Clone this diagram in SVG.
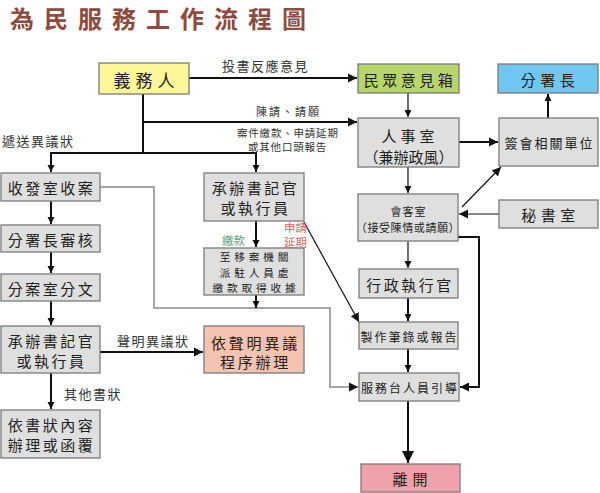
<svg xmlns="http://www.w3.org/2000/svg" width="600" height="493" viewBox="0 0 600 493">
<defs>
<marker id="ah" markerUnits="userSpaceOnUse" markerWidth="10" markerHeight="10" refX="9" refY="5" orient="auto"><path d="M0,0.5 L9,5 L0,9.5 z" fill="#111"/></marker>
<marker id="as" markerUnits="userSpaceOnUse" markerWidth="8" markerHeight="8" refX="7" refY="4" orient="auto"><path d="M0,0.5 L7,4 L0,7.5 z" fill="#111"/></marker>
<marker id="ab" markerUnits="userSpaceOnUse" markerWidth="14" markerHeight="14" refX="12" refY="7" orient="auto"><path d="M0,1 L12,7 L0,13 z" fill="#111"/></marker>
</defs>
<style>
.box{stroke:#7a7a7a;stroke-width:1.3}
.g{fill:#dfdfdf}
.t{font-family:"Noto Sans CJK TC","Noto Sans CJK SC",sans-serif;fill:#222;text-anchor:middle;dominant-baseline:central}
.l{font-family:"Noto Sans CJK TC","Noto Sans CJK SC",sans-serif;fill:#333;dominant-baseline:central}
.thick{fill:none;stroke:#111;stroke-width:2}
.thin{fill:none;stroke:#111;stroke-width:1.2}
.gray{fill:none;stroke:#8a8a8a;stroke-width:1.5}
</style>
<rect width="600" height="493" fill="#fff"/>
<text x="10" y="17.5" dominant-baseline="central" font-family="'Noto Sans CJK TC','Noto Sans CJK SC',sans-serif" font-size="24" font-weight="700" letter-spacing="10" fill="#8c4b3e">為民服務工作流程圖</text>

<g id="connectors">
<path class="thick" d="M189,78 H357" marker-end="url(#ah)"/>
<path class="thick" d="M143,94 V153"/>
<path class="thick" d="M143,122 H357" marker-end="url(#ah)"/>
<path class="thick" d="M143,153 H51 V172" marker-end="url(#as)"/>
<path class="thick" d="M143,153 H256 V172" marker-end="url(#as)"/>
<path class="thin" d="M408,93 V117" marker-end="url(#as)"/>
<path class="thick" d="M459,142 H498" marker-end="url(#ah)"/>
<path class="thick" d="M548,118 V94" marker-end="url(#as)"/>
<path class="thin" d="M408,167 V193" marker-end="url(#as)"/>
<path class="thin" d="M499,214 H459" marker-end="url(#ah)"/>
<path class="thin" d="M462,207 L501,167" marker-end="url(#ah)"/>
<path class="thick" d="M458,237 H479 V387 H460" marker-end="url(#ah)"/>
<path class="thin" d="M408,241 V268" marker-end="url(#as)"/>
<path class="thick" d="M408,298 V321" marker-end="url(#as)"/>
<path class="thick" d="M408,349 V372" marker-end="url(#as)"/>
<path class="thick" d="M408,401 V463" marker-end="url(#ab)"/>
<path class="gray" d="M100,187 H154 V308 H330 V387 H358" marker-end="url(#ah)"/>
<path class="thick" d="M256,295 V308" marker-end="url(#as)"/>
<path class="thick" d="M256,221 V247" marker-end="url(#as)"/>
<path class="thin" d="M304,222 L359,322" marker-end="url(#ah)"/>
<path class="thick" d="M51,201 V224" marker-end="url(#as)"/>
<path class="thick" d="M51,252 V273" marker-end="url(#as)"/>
<path class="thick" d="M51,301 V325" marker-end="url(#as)"/>
<path class="thick" d="M51,373 V409" marker-end="url(#as)"/>
<path class="thick" d="M100,352 H203" marker-end="url(#ah)"/>
<text class="l" x="222" y="65" font-size="13" letter-spacing="1.5">投書反應意見</text>
<text class="l" x="256" y="111" font-size="11" letter-spacing="2">陳請、請願</text>
<text class="l" x="237" y="132" font-size="10.5" letter-spacing="0.8">案件繳款、申請延期</text>
<text class="l" x="248" y="146" font-size="10.5" letter-spacing="0.8">或其他口頭報告</text>
<text class="l" x="2" y="140" font-size="13" letter-spacing="1.5">遞送異議狀</text>
<text class="l" x="222" y="240" font-size="11.5" style="fill:#5f9e80">繳款</text>
<text class="l" x="284" y="227" font-size="11.5" style="fill:#e06464">申請</text>
<text class="l" x="284" y="242" font-size="11.5" style="fill:#e06464">延期</text>
<text class="l" x="117" y="340" font-size="13" letter-spacing="1.5">聲明異議狀</text>
<text class="l" x="64" y="393" font-size="13" letter-spacing="1.5">其他書狀</text>
</g>

<g id="n1"><rect class="box" x="99" y="63" width="90" height="31" fill="#fef79a"/><text class="t" x="146.5" y="79" font-size="17" letter-spacing="5">義務人</text></g>
<g id="n2"><rect class="box" x="358" y="64" width="101" height="29" fill="#b6d66c"/><text class="t" x="410" y="79" font-size="15" letter-spacing="3.5">民眾意見箱</text></g>
<g id="n3"><rect class="box" x="498" y="64" width="100" height="29" fill="#6fc6ef"/><text class="t" x="550" y="79" font-size="15" letter-spacing="4.5">分署長</text></g>
<g id="n4"><rect class="box g" x="358" y="118" width="101" height="49"/><text class="t" x="410" y="135" font-size="15" letter-spacing="4">人事室</text><text class="t" x="408.5" y="156" font-size="15" letter-spacing="0">（兼辦政風）</text></g>
<g id="n5"><rect class="box g" x="499" y="118" width="99" height="48"/><text class="t" x="549.5" y="142" font-size="13" letter-spacing="2">簽會相關單位</text></g>
<g id="n6"><rect class="box g" x="1" y="173" width="99" height="28"/><text class="t" x="51.5" y="187" font-size="15" letter-spacing="2.5">收發室收案</text></g>
<g id="n7"><rect class="box g" x="204" y="173" width="100" height="48"/><text class="t" x="255.5" y="187" font-size="15" letter-spacing="2.5">承辦書記官</text><text class="t" x="255.5" y="207" font-size="15" letter-spacing="2.5">或執行員</text></g>
<g id="n8"><rect class="box g" x="358" y="194" width="100" height="47"/><text class="t" x="408.5" y="211" font-size="11" letter-spacing="1">會客室</text><text class="t" x="408" y="227" font-size="11" letter-spacing="0.6">（接受陳情或請願）</text></g>
<g id="n9"><rect class="box g" x="499" y="200" width="99" height="28"/><text class="t" x="550.5" y="214" font-size="15" letter-spacing="4.5">秘書室</text></g>
<g id="n10"><rect class="box g" x="1" y="225" width="99" height="27"/><text class="t" x="51.5" y="239" font-size="15" letter-spacing="2.5">分署長審核</text></g>
<g id="n11"><rect class="box g" x="204" y="248" width="100" height="47"/><text class="t" font-size="10.7" letter-spacing="3.8"><tspan x="256" y="256">至移案機關</tspan><tspan x="256" y="271.5">派駐人員處</tspan><tspan x="256" y="287">繳款取得收據</tspan></text></g>
<g id="n12"><rect class="box g" x="359" y="269" width="99" height="29"/><text class="t" x="410" y="284" font-size="15" letter-spacing="2.5">行政執行官</text></g>
<g id="n13"><rect class="box g" x="1" y="274" width="99" height="27"/><text class="t" x="51.5" y="288" font-size="15" letter-spacing="2.5">分案室分文</text></g>
<g id="n14"><rect class="box g" x="359" y="322" width="99" height="27"/><text class="t" x="409.5" y="336" font-size="12" letter-spacing="2">製作筆錄或報告</text></g>
<g id="n15"><rect class="box g" x="1" y="326" width="99" height="47"/><text class="t" x="51.5" y="340" font-size="15" letter-spacing="2.5">承辦書記官</text><text class="t" x="51.5" y="360" font-size="15" letter-spacing="2.5">或執行員</text></g>
<g id="n16"><rect class="box" x="204" y="326" width="100" height="47" fill="#f5c3b1"/><text class="t" x="255.5" y="342" font-size="15" letter-spacing="2.8">依聲明異議</text><text class="t" x="255.5" y="361" font-size="15" letter-spacing="2.8">程序辦理</text></g>
<g id="n17"><rect class="box g" x="359" y="373" width="100" height="28"/><text class="t" x="410" y="387" font-size="12" letter-spacing="2">服務台人員引導</text></g>
<g id="n18"><rect class="box g" x="1" y="410" width="99" height="48"/><text class="t" x="51.5" y="424" font-size="15" letter-spacing="2.5">依書狀內容</text><text class="t" x="51.5" y="444" font-size="15" letter-spacing="2.5">辦理或函覆</text></g>
<g id="n19"><rect class="box" x="361" y="464" width="99" height="28" fill="#f0a2aa"/><text class="t" x="412.5" y="478" font-size="15" letter-spacing="5">離開</text></g>
</svg>
